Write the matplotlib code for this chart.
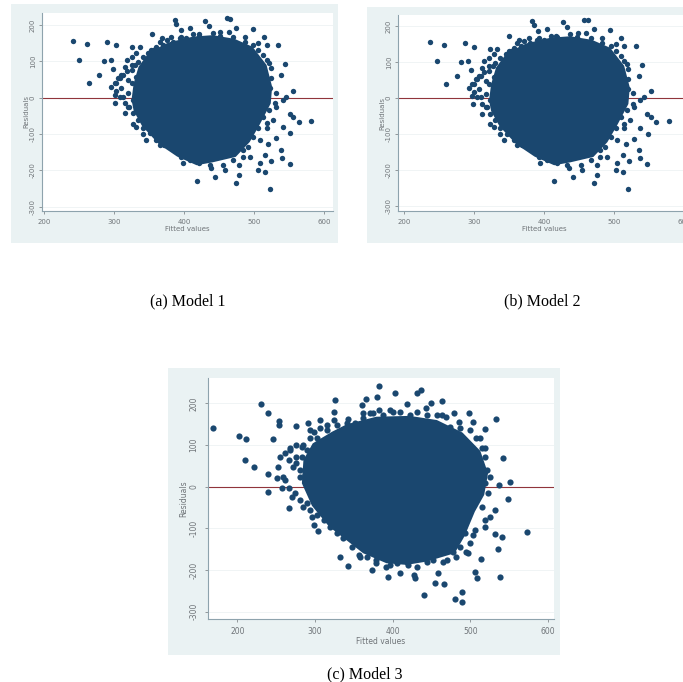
import matplotlib.pyplot as plt

# Valores (nucleo denso + pontos da borda)
core_x_1 = [325, 328, 335, 350, 378, 413, 441, 472, 498, 518, 526, 524, 508, 494, 474, 441, 418, 390, 364, 340, 328]
core_y_1 = [-6, 39, 85, 125, 152, 168, 172, 162, 140, 90, 30, -16, -75, -122, -163, -178, -186, -162, -128, -78, -36]
pts_x_1 = [241, 261, 290, 303, 326, 337, 250, 285, 295, 299, 279, 264,
           318, 325, 308, 303, 296, 301, 302, 315, 327, 341, 346, 365, 387, 398, 315, 310, 320, 313, 320, 332,
           354, 387, 389, 395, 408, 413, 421, 430, 436, 441, 452, 461, 466, 475, 464, 487, 498, 514, 368, 382, 396, 356, 370,
           506, 518, 535, 544, 539, 522, 524, 531, 556, 546, 541, 532, 551, 556, 564, 582, 541, 552, 527, 518, 532, 520,
           539, 540, 551, 525, 516, 508, 506, 516, 523, 475, 479, 479, 445, 418, 458, 439, 494, 484, 508,
           301, 306, 313, 318, 325, 330, 334, 341, 349, 353, 360, 365, 375, 384, 394, 403, 422, 451, 470, 487, 499, 506,
           513, 518, 524, 523, 530, 522, 513, 518, 506, 499, 491, 484, 470, 456, 437, 422, 408, 396, 384, 372, 360, 351,
           341, 334, 327, 322, 315, 308, 303, 310, 320, 327, 325, 332, 325, 332]
pts_y_1 = [155, 148, 153, 144, 139, 140, 104, 100, 104, 78, 63, 39,
           104, 90, 53, 39, 28, 7, -16, -43, -72, -100, -117, -130, -142, -181, 85, 62, 49, 3, -25, -80,
           174, 214, 203, 186, 193, 174, 174, 212, 197, 177, 180, 218, 217, 191, 180, 168, 188, 168, 163, 168, 168, 131, 145,
           150, 145, 145, 92, 61, 94, 53, 14, 19, 3, -6, -25, -45, -52, -66, -64, -82, -98, -61, -84, -112, -128,
           -144, -165, -183, -174, -158, -181, -199, -206, -251, -236, -213, -185, -219, -230, -199, -194, -162, -144, -117,
           39, 53, 62, 72, 76, 90, 99, 113, 122, 131, 140, 154, 159, 154, 163, 163, 170, 170, 166, 154, 145, 131,
           117, 104, 81, 26, -16, -34, -52, -71, -84, -107, -135, -162, -172, -185, -185, -181, -172, -162, -139, -130, -117, -98,
           -84, -61, -43, -25, -16, 3, 17, 26, 12, -6, 39, 58, 113, 122]

core_x_2 = [321, 324, 331, 346, 374, 409, 437, 468, 494, 514, 522, 520, 504, 490, 470, 437, 414, 386, 360, 336, 324]
core_y_2 = [-6, 39, 85, 125, 152, 168, 172, 162, 140, 90, 30, -16, -75, -122, -163, -178, -186, -162, -128, -78, -36]
pts_x_2 = [237, 257, 286, 299, 322, 333, 246, 281, 291, 295, 275, 260,
           314, 321, 304, 299, 292, 297, 298, 311, 323, 337, 342, 361, 383, 394, 311, 306, 316, 309, 316, 328,
           350, 383, 385, 391, 404, 409, 417, 426, 432, 437, 448, 457, 462, 471, 460, 483, 494, 510, 364, 378, 392, 352, 366,
           502, 514, 531, 540, 535, 518, 520, 527, 552, 542, 537, 528, 547, 552, 560, 578, 537, 548, 523, 514, 528, 516,
           535, 536, 547, 521, 512, 504, 502, 512, 519, 471, 475, 475, 441, 414, 454, 435, 490, 480, 504,
           297, 302, 309, 314, 321, 326, 330, 337, 345, 349, 356, 361, 371, 380, 390, 399, 418, 447, 466, 483, 495, 502,
           509, 514, 520, 519, 526, 518, 509, 514, 502, 495, 487, 480, 466, 452, 433, 418, 404, 392, 380, 368, 356, 347,
           337, 330, 323, 318, 311, 304, 299, 306, 316, 323, 321, 328, 321, 328]
pts_y_2 = [155, 148, 153, 143, 138, 138, 104, 100, 104, 78, 63, 39,
           104, 90, 53, 39, 28, 7, -16, -43, -72, -100, -117, -130, -142, -181, 85, 62, 49, 3, -25, -80,
           174, 214, 203, 186, 193, 174, 174, 212, 197, 177, 180, 218, 217, 191, 180, 168, 188, 168, 163, 168, 168, 131, 145,
           150, 145, 145, 92, 61, 94, 53, 14, 19, 3, -6, -25, -45, -52, -66, -64, -82, -98, -61, -84, -112, -128,
           -144, -165, -183, -174, -158, -181, -199, -206, -251, -236, -213, -185, -219, -230, -199, -194, -162, -144, -117,
           39, 53, 62, 72, 76, 90, 99, 113, 122, 131, 140, 154, 159, 154, 163, 163, 170, 170, 166, 154, 145, 131,
           117, 104, 81, 26, -16, -34, -52, -71, -84, -107, -135, -162, -172, -185, -185, -181, -172, -162, -139, -130, -117, -98,
           -84, -61, -43, -25, -16, 3, 17, 26, 12, -6, 39, 58, 113, 122]

core_x_3 = [283, 285, 297, 322, 341, 379, 422, 457, 490, 513, 523, 518, 506, 493, 480, 444, 418, 392, 362, 340, 318, 296]
core_y_3 = [8, 64, 104, 132, 150, 168, 170, 160, 130, 86, 32, -20, -60, -118, -160, -180, -188, -184, -160, -128, -96, -46]
pts_x_3 = [169, 202, 211, 230, 239, 246, 253, 253, 210, 221, 239, 252, 255, 251, 239, 259, 257, 266, 275, 291, 306,
           268, 283, 272, 276, 266, 281, 270, 285, 296, 298, 304, 294, 315,
           324, 326, 343, 360, 366, 362, 371, 382, 380, 382, 403, 397, 409, 419, 431, 436, 431, 443, 450, 464, 463, 479,
           485, 498, 504, 519, 533, 513, 519, 542, 525, 537, 551, 549, 532, 525, 519, 573, 532, 541, 536, 504, 497, 514,
           506, 509, 539, 489, 481, 490, 466, 455, 458, 441, 429, 409, 394, 373, 343, 332, 358, 379, 397, 420, 444, 470, 482,
           261, 268, 276, 285, 289, 283, 276, 281, 287, 261, 266, 274, 281, 289, 294, 302, 311, 319, 328, 336, 347, 356,
           367, 379, 392, 405, 418, 431, 427, 452, 465, 478, 487, 495, 500, 493, 506, 519, 515, 523, 519, 521, 519, 515,
           508, 500, 487, 474, 469, 457, 444, 422, 401, 388, 375, 362, 352, 341, 328, 324, 315, 306, 298, 294, 302]
pts_y_3 = [141, 122, 115, 199, 176, 114, 158, 148, 64, 48, 31, 48, 72, 20, -14, 22, -4, -52, 146, 154, 160,
           88, 96, 48, 72, 64, 24, -24, -48, -72, -92, -106, 136, 136,
           180, 208, 162, 196, 210, 176, 178, 242, 216, 184, 226, 184, 180, 198, 224, 232, 180, 188, 200, 206, 172, 176,
           156, 176, 156, 138, 162, 118, 94, 68, 24, 4, 10, -30, -56, -72, -96, -110, -114, -122, -150, -116, -160, -174,
           -206, -220, -216, -254, -270, -276, -234, -232, -208, -260, -220, -208, -218, -200, -190, -170, -168, -176, -188, -188, -180, -176, -168,
           80, 92, 100, 100, 88, 72, 56, 40, 28, 16, -4, -16, -32, -40, -56, -68, -80, -96, -112, -124, -144, -164,
           -168, -184, -192, -184, -180, -192, -212, -176, -180, -156, -144, -156, -136, -112, -104, -80, -48, -16, 8, 40, 72, 92,
           116, 136, 140, 144, 168, 172, 172, 172, 180, 172, 176, 164, 152, 152, 148, 160, 148, 140, 132, 116, 116]

x_ticks = [200, 300, 400, 500, 600]
y_ticks = [-300, -200, -100, 0, 100, 200]
y_labels = ['-300', '-200', '-100', '0', '100', '200']
captions = ['(a) Model 1', '(b) Model 2', '(c) Model 3']

W, H = 683, 682
NAVY = '#1a476f'
BG = '#eaf2f3'
AXC = '#8ea3ad'

fig = plt.figure(figsize=(W / 100, H / 100), dpi=100, facecolor='white')


def painel(outer, rect, xlim, ylim, cx, cy, px, py, tam, fonte, pad_y):
    # fundo azulado externo
    fundo = fig.add_axes([outer[0] / W, 1 - outer[3] / H, (outer[2] - outer[0]) / W, (outer[3] - outer[1]) / H])
    fundo.set_facecolor(BG)
    fundo.set_xticks([])
    fundo.set_yticks([])
    for s in fundo.spines.values():
        s.set_visible(False)

    ax = fig.add_axes([rect[0] / W, 1 - rect[3] / H, (rect[2] - rect[0]) / W, (rect[3] - rect[1]) / H])
    ax.set_xlim(xlim)
    ax.set_ylim(ylim)
    ax.set_facecolor('white')
    ax.spines['top'].set_visible(False)
    ax.spines['right'].set_visible(False)
    ax.spines['left'].set_color(AXC)
    ax.spines['bottom'].set_color(AXC)
    ax.set_xticks(x_ticks)
    ax.set_yticks(y_ticks)
    ax.set_yticklabels(y_labels, rotation=90, va='center')
    ax.tick_params(colors='#6f7478', labelsize=fonte, length=2, width=0.5)
    ax.tick_params(axis='x', pad=4)
    ax.tick_params(axis='y', pad=pad_y)
    ax.grid(axis='y', color='#eef3f4', lw=0.6)
    ax.set_axisbelow(True)
    ax.set_xlabel('Fitted values', fontsize=fonte, color='#6f7478', labelpad=0.5)
    ax.set_ylabel('Residuals', fontsize=fonte, color='#6f7478', labelpad=0.5)
    ax.axhline(0, color='#90353b', lw=0.8, zorder=1)
    ax.fill(cx, cy, color=NAVY, lw=0, zorder=2)
    ax.scatter(px, py, s=tam, color=NAVY, lw=0, zorder=3)
    return ax


painel((11, 4, 338, 243), (42, 13, 333, 211), (197, 613), (-312, 233), core_x_1, core_y_1, pts_x_1, pts_y_1, 15, 5, 2.5)
painel((367, 7, 690, 243), (398, 15, 690, 211), (191, 608), (-313, 231), core_x_2, core_y_2, pts_x_2, pts_y_2, 15, 5, 2.5)
painel((168, 368, 560, 655), (208, 378, 554, 619), (162, 608), (-318, 261), core_x_3, core_y_3, pts_x_3, pts_y_3, 20, 5.5, 5)

cap_pos = [(188, 301), (542, 301), (365, 674)]
for txt, (cxp, cyp) in zip(captions, cap_pos):
    fig.text(cxp / W, 1 - cyp / H, txt, ha='center', va='center', fontsize=11.5,
             family='Liberation Serif', color='black')

plt.savefig('out.png', dpi=100)
